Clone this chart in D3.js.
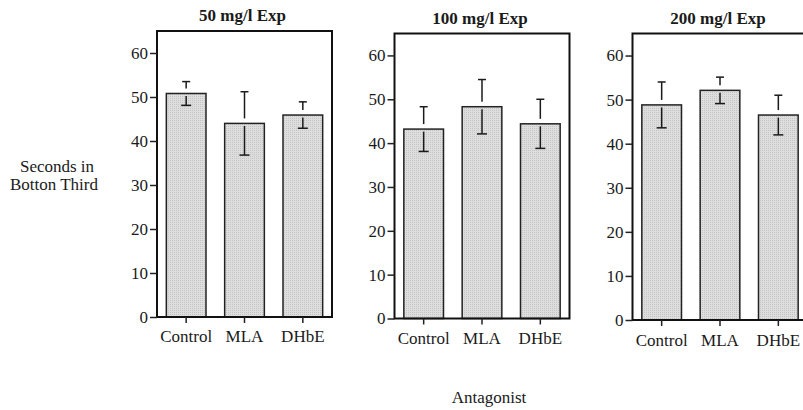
<!DOCTYPE html>
<html>
<head>
  <meta charset="utf-8">
  <script src="https://d3js.org/d3.v7.min.js"></script>
  <style>
    body { margin: 0; background: #fff; }
    svg text { font-family: "Liberation Serif", "Times New Roman", serif; fill: #1a1a1a; }
  </style>
</head>
<body>
  <svg id="fig" width="803" height="410" viewBox="0 0 803 410" xmlns="http://www.w3.org/2000/svg">
    <defs>
      <pattern id="dots" width="2" height="2" patternUnits="userSpaceOnUse">
        <rect width="2" height="2" fill="#dedede"></rect>
        <rect width="1" height="1" fill="#c4c4c4"></rect>
      </pattern>
    </defs>
  </svg>
  <script>
    var categories = ["Control", "MLA", "DHbE"];
    var titles = ["50 mg/l Exp", "100 mg/l Exp", "200 mg/l Exp"];
    var means50 = [50.8, 44.0, 45.9];
    var err50 = [2.7, 7.2, 3.0];
    var means100 = [43.2, 48.3, 44.4];
    var err100 = [5.1, 6.2, 5.6];
    var means200 = [48.8, 52.1, 46.5];
    var err200 = [5.2, 3.0, 4.5];
    var yTicks = [0, 10, 20, 30, 40, 50, 60];

    var svg = d3.select("#fig");

    // panel placement (left, top, bottom of frame)
    var panels = [
      { left: 157, top: 31, bottom: 317, titleY: 15, labY: 336, means: means50, errs: err50 },
      { left: 394.5, top: 33.5, bottom: 318.5, titleY: 18.5, labY: 338.5, means: means100, errs: err100 },
      { left: 632.5, top: 33.5, bottom: 320, titleY: 18.5, labY: 340, means: means200, errs: err200 }
    ];
    var pw = 175;

    function draw_panel(p, idx) {
      var g = svg.append("g");
      var x = d3.scaleBand()
                .domain(categories)
                .range([p.left, p.left + pw])
                .paddingInner(0.32)
                .paddingOuter(0.16);
      var y = d3.scaleLinear()
                .domain([0, 65])
                .range([p.bottom, p.top]);

      // bars
      g.selectAll("rect.bar")
        .data(p.means)
        .enter().append("rect")
        .attr("class", "bar")
        .attr("x", function(d, i) { return x(categories[i]); })
        .attr("y", function(d) { return y(d); })
        .attr("width", x.bandwidth())
        .attr("height", function(d) { return p.bottom - y(d); })
        .attr("fill", "url(#dots)")
        .attr("stroke", "#222")
        .attr("stroke-width", 1.5);

      // error bars, with a small gap around the bar top
      var cap = 4;
      p.means.forEach(function(m, i) {
        var cx = x(categories[i]) + x.bandwidth() / 2;
        var hi = y(m + p.errs[i]), lo = y(m - p.errs[i]), top = y(m);
        g.append("line").attr("x1", cx).attr("x2", cx)
          .attr("y1", hi).attr("y2", top - 5)
          .attr("stroke", "#1a1a1a").attr("stroke-width", 1.5);
        g.append("line").attr("x1", cx - cap).attr("x2", cx + cap)
          .attr("y1", hi).attr("y2", hi)
          .attr("stroke", "#1a1a1a").attr("stroke-width", 1.5);
        g.append("line").attr("x1", cx).attr("x2", cx)
          .attr("y1", top + 2.5).attr("y2", lo)
          .attr("stroke", "#1a1a1a").attr("stroke-width", 1.5);
        g.append("line").attr("x1", cx - cap - 1).attr("x2", cx + cap + 1)
          .attr("y1", lo).attr("y2", lo)
          .attr("stroke", "#1a1a1a").attr("stroke-width", 1.5);
      });

      // frame
      g.append("rect")
        .attr("x", p.left).attr("y", p.top)
        .attr("width", pw).attr("height", p.bottom - p.top)
        .attr("fill", "none")
        .attr("stroke", "#111")
        .attr("stroke-width", 2);

      // y axis
      var yAxis = d3.axisLeft(y).tickValues(yTicks).tickSize(7).tickPadding(2);
      var ya = g.append("g").attr("transform", "translate(" + p.left + ",0)").call(yAxis);
      ya.select(".domain").remove();
      ya.selectAll(".tick line").attr("stroke", "#222").attr("stroke-width", 1.5);
      ya.selectAll(".tick text").attr("font-size", "17px").attr("fill", "#1a1a1a")
        .attr("font-family", "Liberation Serif, Times New Roman, serif");

      // x axis ticks and labels
      var xAxis = d3.axisBottom(x).tickSize(6).tickSizeOuter(0).tickPadding(4);
      var xa = g.append("g").attr("transform", "translate(0," + p.bottom + ")").call(xAxis);
      xa.select(".domain").remove();
      xa.selectAll(".tick line").attr("stroke", "#222").attr("stroke-width", 1.5);
      xa.selectAll(".tick text").attr("font-size", "17px").attr("fill", "#1a1a1a")
        .attr("font-family", "Liberation Serif, Times New Roman, serif")
        .attr("y", null).attr("dy", null)
        .attr("transform", "translate(0," + (p.labY - p.bottom) + ")")
        .attr("dominant-baseline", "central");

      // title
      g.append("text")
        .attr("x", p.left + pw / 2 - 2)
        .attr("y", p.titleY)
        .attr("text-anchor", "middle")
        .attr("dominant-baseline", "central")
        .attr("font-size", "17px")
        .attr("font-weight", "bold")
        .text(titles[idx]);
    }

    panels.forEach(draw_panel);

    svg.append("text")
      .attr("x", 57).attr("y", 166)
      .attr("text-anchor", "middle").attr("dominant-baseline", "central")
      .attr("font-size", "17px")
      .text("Seconds in");
    svg.append("text")
      .attr("x", 54).attr("y", 184)
      .attr("text-anchor", "middle").attr("dominant-baseline", "central")
      .attr("font-size", "17px")
      .text("Botton Third");
    svg.append("text")
      .attr("x", 489).attr("y", 397)
      .attr("text-anchor", "middle").attr("dominant-baseline", "central")
      .attr("font-size", "17px")
      .text("Antagonist");
  </script>
</body>
</html>
